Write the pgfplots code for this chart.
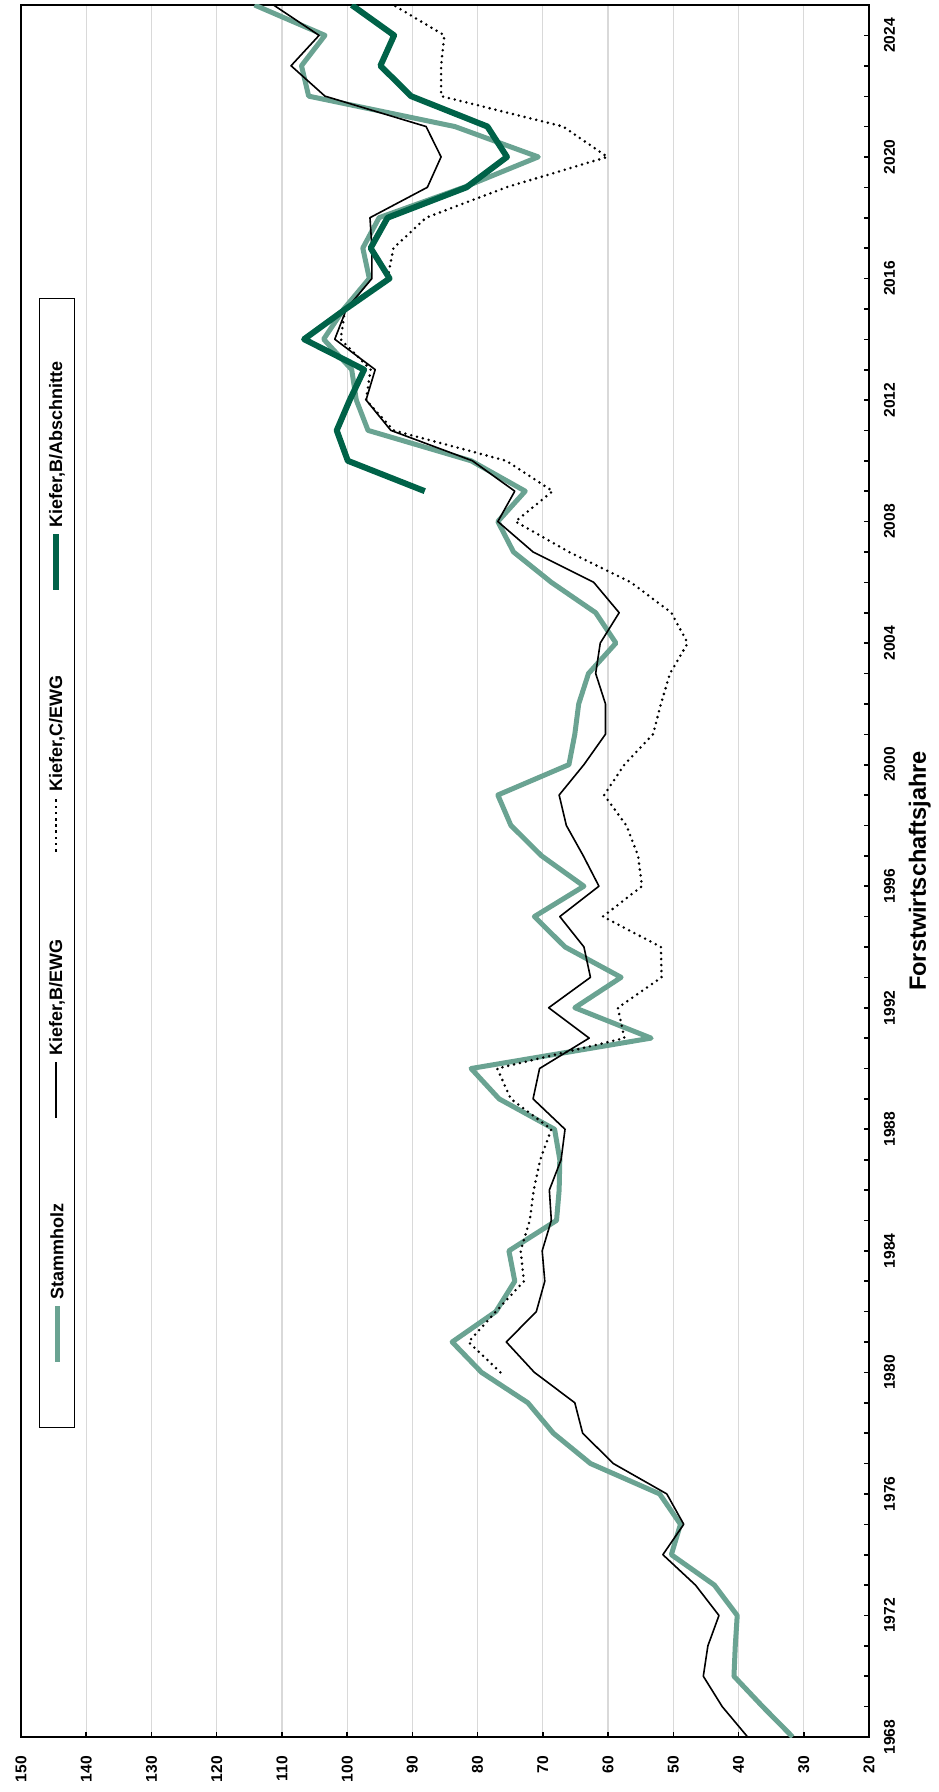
\documentclass[border=0pt]{standalone}
\usepackage{fontspec}
\setmainfont{Liberation Sans}
\usepackage{graphicx}
\usepackage{pgfplots}
\pgfplotsset{compat=1.18}
\definecolor{stamm}{RGB}{106,163,146}
\definecolor{absch}{RGB}{0,98,72}
\definecolor{gridc}{RGB}{217,217,217}

% Jahr, Wert (Index)
\pgfplotstableread{
jahr wert
1968 31.7
1969 36.3
1970 40.7
1971 40.5
1972 40.2
1973 43.7
1974 50.3
1975 48.9
1976 52.1
1977 62.7
1978 68.4
1979 72.3
1980 79.4
1981 83.9
1982 77.2
1983 74.3
1984 75.2
1985 67.9
1986 67.5
1987 67.4
1988 68.2
1989 76.7
1990 81.0
1991 53.4
1992 65.1
1993 58.0
1994 66.6
1995 71.3
1996 63.7
1997 70.2
1998 74.9
1999 76.9
2000 66.0
2001 65.1
2002 64.5
2003 63.0
2004 58.8
2005 61.9
2006 68.7
2007 74.5
2008 76.9
2009 72.7
2010 81.0
2011 96.8
2012 98.6
2013 99.3
2014 103.6
2015 100.5
2016 96.6
2017 97.6
2018 95.1
2019 82.1
2020 70.7
2021 83.5
2022 105.9
2023 107.0
2024 103.4
2025 114.2
}\stammholz

\pgfplotstableread{
jahr wert
1968 38.6
1969 42.5
1970 45.4
1971 44.7
1972 43.0
1973 46.6
1974 51.6
1975 48.4
1976 51.0
1977 59.2
1978 63.9
1979 65.1
1980 71.3
1981 75.6
1982 71.0
1983 69.7
1984 70.1
1985 68.7
1986 69.0
1987 67.2
1988 66.6
1989 71.5
1990 70.5
1991 62.9
1992 69.1
1993 62.7
1994 63.7
1995 67.4
1996 61.4
1997 63.8
1998 66.4
1999 67.5
2000 63.7
2001 60.4
2002 60.4
2003 61.9
2004 61.2
2005 58.3
2006 62.2
2007 71.5
2008 76.9
2009 74.3
2010 80.8
2011 93.3
2012 97.1
2013 95.7
2014 101.9
2015 100.1
2016 96.2
2017 96.2
2018 96.5
2019 87.7
2020 85.6
2021 87.9
2022 103.4
2023 108.6
2024 104.3
2025 111.3
}\kieferbewg

\pgfplotstableread{
jahr wert
1980 76.5
1981 81.4
1982 77.2
1983 72.9
1984 73.4
1985 72.0
1986 71.4
1987 70.4
1988 68.7
1989 74.9
1990 77.0
1991 57.5
1992 58.5
1993 51.8
1994 51.9
1995 60.8
1996 54.8
1997 55.4
1998 57.2
1999 60.6
2000 57.5
2001 53.1
2002 51.9
2003 50.5
2004 47.8
2005 50.3
2006 56.5
2007 66.0
2008 74.2
2009 68.5
2010 75.6
2011 92.9
2012 97.1
2013 96.4
2014 101.0
2015 100.3
2016 93.8
2017 92.9
2018 87.9
2019 75.6
2020 60.1
2021 66.9
2022 85.6
2023 85.6
2024 85.1
2025 92.9
}\kiefercewg

\pgfplotstableread{
jahr wert
2009 88.1
2010 99.9
2011 101.6
2012 99.6
2013 97.4
2014 106.6
2015 100.2
2016 93.5
2017 96.4
2018 93.8
2019 81.7
2020 75.5
2021 78.5
2022 90.2
2023 94.9
2024 92.8
2025 99.3
}\abschnitte

% Legendensymbole (werden mit dem Text gedreht)
\newcommand{\lgline}[2]{\textcolor{#1}{\rule[\dimexpr0.33em-#2/2\relax]{28pt}{#2}}\hspace{3pt}}
\newcommand{\lgdots}{\hbox to 28pt{\xleaders\hbox to 3pt{\hss\rule[0.28em]{1.3pt}{1.3pt}\hss}\hfill}\hspace{3pt}}
\newcommand{\lgentry}[1]{\rotatebox{90}{#1}}

\begin{document}
\begin{tikzpicture}
\useasboundingbox (-10.5pt,-27.5pt) rectangle (458.5pt,868.5pt);
\begin{axis}[
    at={(0,0)}, anchor=south west,
    scale only axis,
    width=424pt, height=866pt,
    x dir=reverse,
    xmin=20, xmax=150,
    xtick={20,30,...,150},
    ymin=1968, ymax=2025,
    ytick={1968,1972,...,2024},
    minor ytick={1968,...,2025},
    xtick pos=left, ytick pos=right,
    yticklabel pos=right,
    tick align=inside,
    major tick length=2.5pt, minor tick length=2.5pt,
    tick style={black, line width=0.8pt},
    axis line style={line width=0.9pt},
    xmajorgrids,
    grid style={draw=gridc, line width=0.6pt},
    /pgf/number format/assume math mode=true,
    /pgf/number format/1000 sep={},
    xticklabel style={rotate=90, anchor=east, font=\fontsize{7.8}{9}\selectfont\bfseries},
    xticklabel shift=6pt,
    yticklabel style={rotate=90, anchor=north, font=\fontsize{7.8}{9}\selectfont\bfseries},
    yticklabel shift=4pt,
    ylabel={Forstwirtschaftsjahre},
    ylabel near ticks,
    ylabel style={font=\fontsize{11.8}{14}\selectfont\bfseries},
    legend columns=1,
    reverse legend,
    legend image code/.code={},
    legend style={at={(axis description cs:0.0425,0.5046)}, anchor=center,
        draw=black, line width=0.6pt, inner xsep=2.8pt, inner ysep=29.5pt,
        row sep=37.5pt, column sep=0pt,
        cells={anchor=center, inner sep=0pt},
        font=\fontsize{9}{11}\selectfont\bfseries},
]
\addplot[stamm, line width=2.5pt, line join=round] table[x=wert, y=jahr] {\stammholz};
\addlegendentry{\lgentry{\lgline{stamm}{2.5pt}Stammholz}}
\addplot[black, line width=0.8pt, line join=round] table[x=wert, y=jahr] {\kieferbewg};
\addlegendentry{\lgentry{\lgline{black}{0.8pt}Kiefer,B/EWG}}
\addplot[black, line width=1.4pt, line cap=round, dash pattern=on 0pt off 3pt] table[x=wert, y=jahr] {\kiefercewg};
\addlegendentry{\lgentry{\lgdots Kiefer,C/EWG}}
\addplot[absch, line width=3pt, line join=round] table[x=wert, y=jahr] {\abschnitte};
\addlegendentry{\lgentry{\lgline{absch}{3pt}Kiefer,B/Abschnitte}}
\end{axis}
\end{tikzpicture}
\end{document}
